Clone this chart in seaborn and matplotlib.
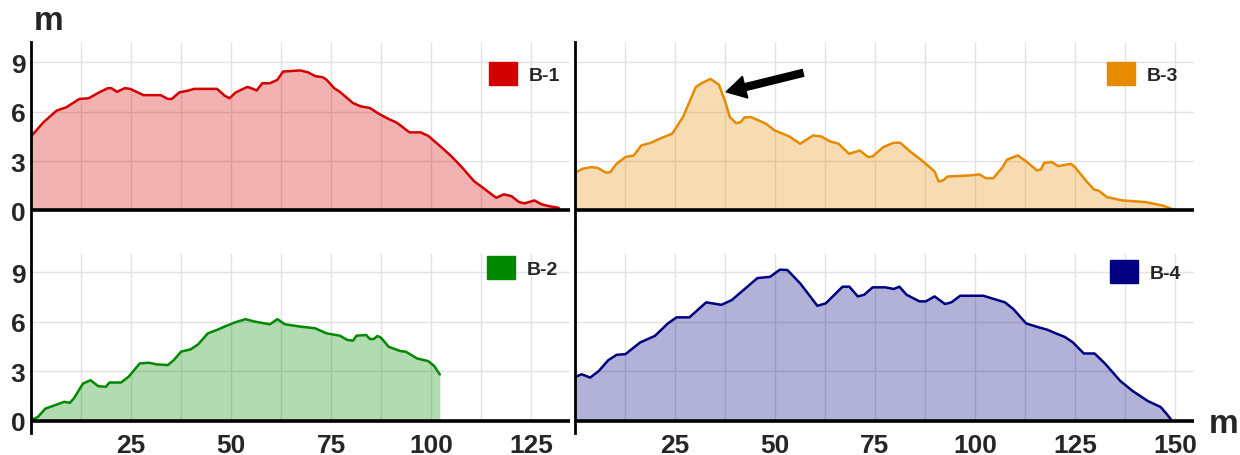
import pandas as pd
import seaborn as sns
import matplotlib.pyplot as plt
from matplotlib.patches import Patch

# profile B-1 (top left)
b1_x = [0, 3.1, 6.4, 8.8, 12.1, 14.4, 17.3, 19.2, 20.1, 21.5, 23.4, 24.8, 28.1, 32.4, 34.2, 35.2,
        37.1, 39.0, 40.8, 46.5, 48.4, 49.6, 51.2, 54.1, 55.5, 56.4, 57.8, 59.7, 61.6, 63.0, 67.3,
        69.2, 71.1, 72.9, 73.9, 75.8, 77.2, 80.5, 82.4, 84.7, 87.1, 89.4, 91.3, 92.7, 94.6, 97.4,
        99.3, 102.2, 105.0, 107.8, 110.7, 113.5, 116.3, 118.2, 120.1, 122.0, 123.4, 125.8, 127.7,
        129.5, 131.9]
b1_y = [4.49, 5.35, 6.06, 6.26, 6.77, 6.81, 7.2, 7.42, 7.42, 7.2, 7.42, 7.38, 7.0, 7.0, 6.77, 6.77,
        7.17, 7.26, 7.38, 7.38, 6.97, 6.81, 7.17, 7.5, 7.38, 7.28, 7.72, 7.72, 7.93, 8.43, 8.5,
        8.39, 8.15, 8.09, 7.93, 7.42, 7.2, 6.52, 6.32, 6.22, 5.85, 5.55, 5.35, 5.1, 4.74, 4.74,
        4.53, 3.92, 3.31, 2.6, 1.79, 1.28, 0.77, 0.98, 0.87, 0.51, 0.43, 0.61, 0.37, 0.26, 0.16]

# profile B-3 (top right)
b3_x = [0, 1.9, 4.0, 5.6, 7.8, 8.8, 10.4, 12.6, 14.7, 16.6, 19.0, 21.1, 24.3, 27.0, 30.2, 31.8,
        33.9, 36.0, 37.6, 38.7, 40.3, 41.4, 42.4, 44.0, 47.8, 49.9, 53.6, 56.3, 59.5, 61.6, 63.8,
        65.9, 68.5, 71.2, 73.3, 74.4, 77.1, 79.7, 81.3, 84.0, 86.7, 89.9, 90.9, 92.0, 93.1, 99.0,
        101.1, 102.7, 104.6, 106.9, 108.0, 110.7, 112.8, 115.5, 116.5, 117.3, 119.2, 120.8, 124.0,
        125.0, 127.7, 129.8, 130.9, 133.0, 136.8, 142.6, 146.9, 149.6]
b3_y = [2.29, 2.53, 2.63, 2.59, 2.29, 2.33, 2.83, 3.24, 3.34, 3.95, 4.11, 4.35, 4.66, 5.67, 7.49, 7.75,
        7.98, 7.63, 6.58, 5.67, 5.3, 5.36, 5.65, 5.67, 5.26, 4.86, 4.49, 4.05, 4.55, 4.49, 4.19,
        4.05, 3.44, 3.64, 3.24, 3.28, 3.85, 4.11, 4.11, 3.54, 3.04, 2.37, 1.76, 1.82, 2.06, 2.13,
        2.19, 1.96, 1.96, 2.63, 3.08, 3.34, 2.98, 2.43, 2.49, 2.89, 2.94, 2.69, 2.83,
        2.63, 1.82, 1.26, 1.21, 0.81, 0.61, 0.51, 0.3, 0.06]

# profile B-2 (bottom left)
b2_x = [0, 1.7, 3.6, 5.9, 8.3, 9.7, 10.7, 13.0, 14.9, 16.8, 18.7, 19.6, 22.5, 24.4, 27.2, 29.5,
        31.4, 34.2, 35.7, 37.5, 39.9, 41.8, 44.2, 46.5, 48.4, 50.8, 53.6, 56.0, 59.7, 61.6, 63.5,
        67.3, 71.0, 73.9, 77.2, 79.1, 80.5, 81.4, 83.8, 84.7, 85.7, 86.6, 87.5, 89.4, 92.3, 93.7,
        96.5, 99.3, 100.8, 102.2]
b2_y = [0.06, 0.24, 0.75, 0.95, 1.16, 1.1, 1.36, 2.27, 2.47, 2.11, 2.07, 2.33, 2.33, 2.68, 3.49, 3.53,
        3.43, 3.39, 3.69, 4.2, 4.34, 4.65, 5.31, 5.52, 5.72, 5.96, 6.17, 6.02, 5.86, 6.17, 5.86,
        5.72, 5.62, 5.31, 5.17, 4.91, 4.87, 5.17, 5.21, 4.97, 4.97, 5.15, 5.05, 4.5, 4.24, 4.2,
        3.79, 3.63, 3.33, 2.82]

# profile B-4 (bottom right)
b4_x = [0, 1.7, 3.8, 6.0, 8.3, 10.4, 12.6, 16.3, 20.0, 23.2, 25.4, 28.6, 32.8, 36.6, 39.2, 45.6,
        48.8, 51.2, 53.1, 56.3, 60.6, 62.7, 66.9, 68.6, 70.7, 72.3, 74.4, 77.6, 79.7, 81.1, 82.9,
        86.1, 87.7, 89.9, 92.5, 94.1, 96.3, 102.1, 104.8, 107.5, 109.6, 112.8, 116.0, 118.1,
        120.3, 122.4, 124.5, 127.2, 129.9, 132.5, 136.3, 139.4, 143.2, 146.4, 148.0, 149.3]
b4_y = [2.67, 2.83, 2.63, 3.04, 3.68, 4.01, 4.05, 4.76, 5.16, 5.91, 6.28, 6.28, 7.19, 7.04, 7.33, 8.66,
        8.74, 9.17, 9.15, 8.34, 6.98, 7.13, 8.14, 8.14, 7.55, 7.65, 8.1, 8.1, 8.0, 8.14, 7.65,
        7.25, 7.25, 7.55, 7.09, 7.19, 7.59, 7.59, 7.39, 7.19, 6.78, 5.91, 5.67, 5.53,
        5.3, 5.1, 4.76, 4.09, 4.09, 3.48, 2.43, 1.82, 1.21, 0.85, 0.4, 0.0]

y_ticks = [0, 3, 6, 9]
left_xticks = [25, 50, 75, 100, 125]
right_xticks = [25, 50, 75, 100, 125, 150]

sns.set_theme(style="white")
plt.rcParams["font.family"] = ["Liberation Sans", "DejaVu Sans"]
plt.rcParams["font.weight"] = "bold"

fig = plt.figure(figsize=(12.4, 4.56), dpi=100)
ax_b1 = fig.add_axes([0.025, 0.4947, 0.4347, 0.4101])
ax_b3 = fig.add_axes([0.4637, 0.4947, 0.4992, 0.4101])
ax_b2 = fig.add_axes([0.025, 0.0493, 0.4347, 0.445])
ax_b4 = fig.add_axes([0.4637, 0.0493, 0.4992, 0.445])

panels = [
    (ax_b1, b1_x, b1_y, "B-1", "#d40000", 134.75, (-1.15, 10.2), None, True, (0.85, 0.895)),
    (ax_b3, b3_x, b3_y, "B-3", "#e68a00", 154.75, (-1.15, 10.2), None, False, (0.859, 0.895)),
    (ax_b2, b2_x, b2_y, "B-2", "#008800", 134.75, (-0.7, 11.6), left_xticks, True, (0.846, 0.87)),
    (ax_b4, b4_x, b4_y, "B-4", "#000080", 154.75, (-0.7, 11.6), right_xticks, False, (0.864, 0.85)),
]

for ax, xs, ys, name, color, xmax, ylim, xticks, show_y, leg_pos in panels:
    df = pd.DataFrame({"dist": xs, "height": ys})
    ax.set_xlim(0, xmax)
    ax.set_ylim(*ylim)
    # grid: horizontal at ticks, vertical every 12.5 m up to top of grid
    ax.set_yticks(y_ticks)
    ax.grid(axis="y", color="#e2e2e2", lw=1)
    k = 12.5
    while k < xmax:
        ax.vlines(k, 0, 10.2, color="#e2e2e2", lw=1, zorder=0.5)
        k += 12.5
    ax.fill_between(df["dist"], 0, df["height"], color=color, alpha=0.3, lw=0, zorder=1)
    sns.lineplot(data=df, x="dist", y="height", ax=ax, color=color, lw=1.8, zorder=2)
    ax.axhline(0, color="black", lw=2.6, zorder=3)
    for s in ["top", "right", "bottom"]:
        ax.spines[s].set_visible(False)
    ax.spines["left"].set_color("black")
    ax.spines["left"].set_linewidth(2)
    ax.set_xlabel("")
    ax.set_ylabel("")
    if xticks:
        ax.set_xticks(xticks)
        ax.tick_params(axis="x", length=0, pad=0, labelsize=19)
    else:
        ax.set_xticks([])
    if show_y:
        ax.tick_params(axis="y", length=0, pad=4, labelsize=19)
    else:
        ax.tick_params(axis="y", length=0, labelleft=False)
    for lab in ax.get_xticklabels() + ax.get_yticklabels():
        lab.set_fontweight("bold")
    ax.legend(handles=[Patch(color=color, label=name)], loc="upper left",
              bbox_to_anchor=leg_pos, frameon=False, borderpad=0, borderaxespad=0,
              handlelength=1.45, handleheight=1.45, handletextpad=0.6,
              prop={"size": 14, "weight": "bold"})

ax_b3.annotate("", xy=(37.8, 7.2), xytext=(57, 8.35),
               arrowprops=dict(facecolor="black", edgecolor="black", width=5,
                               headwidth=16, headlength=14, shrink=0))

fig.text(0.039, 0.952, "m", fontsize=24, fontweight="bold", ha="center", va="center")
fig.text(0.987, 0.07, "m", fontsize=24, fontweight="bold", ha="center", va="center")

fig.savefig("out.png", dpi=100)
